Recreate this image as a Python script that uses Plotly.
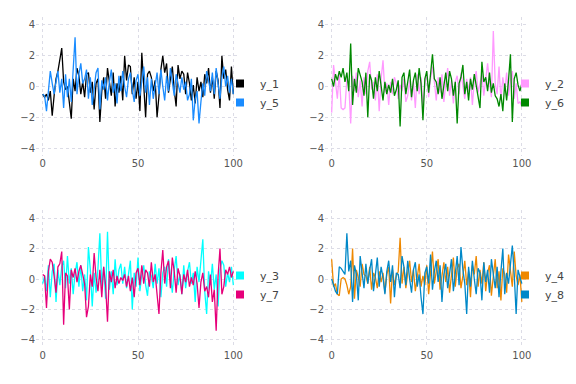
import plotly.graph_objects as go

y1 = [-0.5,-0.7,-0.5,-0.9,-0.3,-1.9,-0.6,0.5,1.0,1.8,2.5,0.3,-0.2,0.0,-1.0,-2.1,0.5,-0.3,1.2,0.7,-0.5,0.3,-0.7,0.8,0.9,-0.4,0.3,-1.5,0.2,0.5,-2.3,-0.3,0.6,-0.8,1.2,0.3,-0.6,0.9,-1.3,0.2,-0.4,0.7,-0.9,2.0,0.4,1.4,1.3,-0.5,0.6,-0.8,0.3,-1.6,2.2,0.1,-2.0,0.8,1.0,0.6,-0.3,0.4,-2.0,-0.6,1.1,2.0,0.9,1.5,-0.4,0.5,1.3,-0.2,-1.3,1.4,0.5,1.0,0.8,-0.5,0.9,0.2,-0.9,0.1,-1.1,0.6,-0.3,0.3,-0.7,0.8,0.2,1.2,-0.4,0.6,-0.8,1.0,0.4,-1.4,2.0,0.5,1.1,-0.2,-0.9,1.3,-0.5]
y5 = [-0.5,-0.6,-1.6,-0.2,1.0,0.2,-0.5,0.3,1.0,-0.4,0.5,-1.4,0.8,-0.7,0.5,-1.0,1.5,3.2,-0.5,0.8,1.5,0.2,0.5,1.1,-0.8,0.6,-1.2,0.1,0.9,1.2,-1.5,0.4,-0.2,0.6,-0.9,0.3,1.1,-0.4,0.2,-1.1,0.7,-0.3,1.0,0.0,-0.7,0.5,0.9,-0.2,-1.0,0.4,0.8,-0.6,0.3,1.3,-0.4,0.6,-1.2,0.5,-0.8,0.2,0.9,-0.5,1.1,0.0,-0.9,0.7,-0.3,1.2,0.4,-0.6,0.8,0.1,-0.4,0.6,-0.2,0.3,-0.9,-0.5,0.5,-2.2,-0.8,-0.3,-2.4,-1.0,0.2,-0.6,1.0,0.4,-0.3,0.9,-0.5,1.2,0.3,-0.8,0.6,1.3,0.0,0.7,-0.4,0.5,-0.5]
y2 = [-1.7,1.4,0.3,-0.8,0.9,-1.4,-1.5,-1.4,0.5,0.2,-2.4,0.7,-0.3,0.9,-0.7,0.4,-1.3,0.6,-0.5,1.0,1.6,-0.2,0.3,-0.9,0.8,-1.6,0.5,1.7,-0.4,0.2,-1.2,0.3,-0.5,0.6,0.2,-0.8,0.1,-0.3,0.5,-1.0,-0.6,0.4,-0.9,0.3,-1.4,0.8,-0.5,0.6,-1.3,0.2,0.9,-0.7,0.5,1.3,0.3,-0.9,0.6,-0.4,0.8,-1.0,0.2,1.2,-0.6,0.4,-1.1,0.3,0.7,-0.5,0.9,0.1,-0.8,0.5,-0.3,0.6,-1.2,0.4,1.0,-0.4,0.2,0.8,-0.6,0.5,1.5,0.3,-0.7,3.6,0.2,-0.5,1.3,-0.9,0.6,-0.3,0.9,-0.6,0.4,1.0,-0.8,0.2,-1.1,-1.0,-1.3]
y6 = [0.5,0.0,0.8,0.4,1.0,0.6,1.2,0.3,0.9,-0.3,2.8,-1.2,0.5,-0.4,1.2,0.7,0.3,-0.6,0.9,-2.0,0.8,0.4,-0.8,0.6,-0.3,1.0,0.2,-0.9,0.3,-0.5,0.1,-0.4,0.5,-0.6,-0.2,0.4,-2.6,0.6,0.9,-0.5,0.3,1.1,-0.7,0.4,0.9,-0.3,1.2,0.2,-2.2,0.5,1.0,-0.4,0.8,2.1,0.5,0.3,-0.5,0.6,-0.8,0.2,0.9,-0.3,1.0,0.5,-0.6,0.3,-2.4,0.2,0.6,1.4,-0.5,0.3,-0.9,0.5,-0.2,0.8,0.1,-0.6,-1.4,1.6,0.3,0.6,-0.3,0.9,-0.4,0.2,-0.6,-0.8,-1.3,-0.5,-1.6,0.2,-0.9,0.4,2.1,-2.3,0.5,0.9,0.1,-0.3,0.2]
y3 = [-0.3,0.2,-0.8,0.9,-1.2,0.5,1.0,-1.5,0.6,-0.4,0.8,1.2,-0.6,1.5,-0.3,0.7,-1.0,0.4,1.1,-0.5,0.9,-0.8,0.3,-1.4,2.1,0.6,-1.8,0.4,-0.9,0.7,3.0,-0.5,0.8,-1.3,3.1,-0.7,0.5,-1.0,1.3,-0.4,0.6,1.0,-0.3,0.8,-0.6,0.2,1.2,-2.0,0.4,-0.5,1.4,-0.8,0.3,0.9,-0.4,-1.1,0.5,0.2,-0.6,1.0,-0.3,0.7,-1.2,0.4,0.8,-0.5,1.3,0.2,-0.9,0.6,1.5,-0.4,0.3,-1.0,0.9,-0.6,0.5,1.1,-0.3,0.4,-1.5,0.8,-0.2,1.2,2.6,-0.8,-2.3,0.5,-0.4,1.0,-0.7,0.3,-1.8,0.6,1.2,0.9,-0.5,0.4,-0.2,0.8,-0.4]
y7 = [0.3,0.2,-1.9,0.5,1.3,1.1,0.2,-0.9,0.8,1.0,1.8,-3.0,0.4,0.2,-2.0,0.6,0.1,0.7,-0.2,0.5,0.9,0.4,-0.3,-2.5,-1.8,0.3,-0.5,1.7,0.1,-0.8,0.6,-1.2,0.8,-0.4,-2.8,0.5,-0.2,0.6,-0.6,0.2,-0.3,0.1,-0.1,0.3,-0.5,0.2,-0.8,0.1,-1.2,0.4,0.7,-0.4,0.9,-0.3,0.6,0.4,-0.5,1.1,-0.2,0.3,-0.9,-2.3,0.4,1.9,-0.3,0.8,1.2,-0.6,1.4,0.5,-0.9,0.7,0.2,-1.0,0.3,-0.2,0.6,-0.5,0.1,-0.4,0.5,-0.3,-1.9,-0.2,0.4,-0.8,-0.5,-1.2,0.3,-1.5,-0.7,-3.4,0.2,2.0,-1.0,-0.5,0.6,0.3,0.8,0.1,0.5]
y4 = [1.3,-0.5,-0.3,-1.0,-1.1,0.0,0.1,0.0,-0.4,-1.0,-0.5,2.0,-1.3,0.6,0.1,-0.5,1.0,0.3,0.2,-0.3,0.8,-0.7,0.4,0.1,-0.6,0.5,-0.2,0.4,-0.9,0.3,0.8,-1.6,0.6,-0.4,0.2,0.5,2.7,-0.3,0.8,-0.6,0.4,1.2,-0.2,0.6,-0.8,0.3,1.0,-0.5,0.2,-0.4,0.9,-1.0,0.5,1.8,-0.3,0.6,1.3,-0.7,0.4,1.1,-0.2,0.8,-0.9,0.3,1.4,-0.5,0.7,1.0,-0.6,0.2,1.2,-0.4,0.5,-1.2,0.9,0.3,1.5,-0.5,0.6,-0.3,1.1,-0.8,0.4,0.9,-1.1,0.2,1.3,-0.6,0.5,-1.4,0.7,0.3,-0.9,1.6,0.4,-0.5,1.8,0.2,-0.4,0.3,-1.5]
y8 = [0.0,-0.5,-0.8,-1.0,0.8,0.7,0.5,0.3,3.0,0.5,1.2,-1.5,0.9,0.3,-1.4,1.5,0.4,-0.6,1.0,-0.3,0.6,1.3,-0.8,0.2,1.4,-0.5,0.8,0.1,-1.0,0.5,1.2,-0.2,0.9,-1.2,0.4,0.3,-0.6,1.5,0.8,-0.4,1.2,0.0,-0.9,0.6,1.1,-0.5,0.3,-1.2,-2.3,0.4,0.8,-0.3,1.6,-0.7,0.5,1.2,-0.2,0.9,-1.5,0.3,1.0,-0.6,0.4,1.3,-0.8,0.2,1.5,-0.4,2.1,0.6,-0.3,-2.3,0.8,-0.5,1.2,0.0,-1.0,0.7,0.4,-1.4,1.1,-0.2,0.6,-0.9,1.3,0.3,-0.6,0.8,-1.2,0.5,2.0,-1.0,0.4,-0.3,1.0,2.2,0.3,-2.3,0.6,0.2,-0.3]

names = ["y_1", "y_5", "y_2", "y_6", "y_3", "y_7", "y_4", "y_8"]
series = [y1, y5, y2, y6, y3, y7, y4, y8]
colors = ["#000000", "#1a8cff", "#ff99ff", "#008800", "#00ffff", "#e6007a", "#ee8800", "#0088c8"]
x_ticks = [0, 50, 100]
y_ticks = [-4, -2, 0, 2, 4]

fig = go.Figure()
panel_axes = [("x", "y"), ("x2", "y2"), ("x3", "y3"), ("x4", "y4")]
legends = ["legend", "legend2", "legend3", "legend4"]
for i, (ys, nm, col) in enumerate(zip(series, names, colors)):
    p = i // 2
    xa, ya = panel_axes[p]
    xs = list(range(len(ys)))
    fig.add_trace(go.Scatter(x=xs, y=ys, mode="lines", line=dict(color=col, width=1.3),
                             xaxis=xa, yaxis=ya, showlegend=False, hoverinfo="skip"))
    fig.add_trace(go.Scatter(x=[None], y=[None], mode="markers", name=nm,
                             marker=dict(symbol="square", size=8, color=col),
                             xaxis=xa, yaxis=ya, legend=legends[p]))

W, H = 576, 384
xdoms = [[28 / W, 232 / W], [317 / W, 520.5 / W]]
ydoms = [[1 - 147.7 / H, 1 - 9.3 / H], [1 - 339.6 / H, 1 - 202.4 / H]]
font_tick = dict(family="DejaVu Sans, Arial, sans-serif", size=10, color="#555555")
common_x = dict(range=[-3.5, 103.5], tickvals=x_ticks, showgrid=True, gridcolor="#dcdce6",
                griddash="dot", gridwidth=1, zeroline=False, showline=False, ticks="",
                tickfont=font_tick, fixedrange=True, automargin=False)
common_y = dict(range=[-4.5, 4.5], tickvals=y_ticks, showgrid=True, gridcolor="#dcdce6",
                griddash="dot", gridwidth=1, zeroline=False, showline=False, ticks="",
                tickfont=font_tick, fixedrange=True, automargin=False)

layout = dict(width=W, height=H, margin=dict(l=0, r=0, t=0, b=0, autoexpand=False),
              paper_bgcolor="white", plot_bgcolor="white", showlegend=True)
for p in range(4):
    r, c = p // 2, p % 2
    xk = "xaxis" if p == 0 else f"xaxis{p+1}"
    yk = "yaxis" if p == 0 else f"yaxis{p+1}"
    layout[xk] = dict(common_x, domain=xdoms[c], anchor=panel_axes[p][1])
    layout[yk] = dict(common_y, domain=ydoms[r], anchor=panel_axes[p][0])

leg_pos = [(212, 61), (497, 61), (212, 253), (497, 253)]
for p, lg in enumerate(legends):
    lx, ly = leg_pos[p]
    layout[lg] = dict(x=lx / W, y=1 - ly / H, xanchor="left", yanchor="top",
                      bgcolor="rgba(0,0,0,0)", borderwidth=0, itemwidth=30,
                      tracegroupgap=0,
                      font=dict(family="DejaVu Sans, Arial, sans-serif", size=11, color="#444444"))
fig.update_layout(**layout)
fig.write_html("out.html")
